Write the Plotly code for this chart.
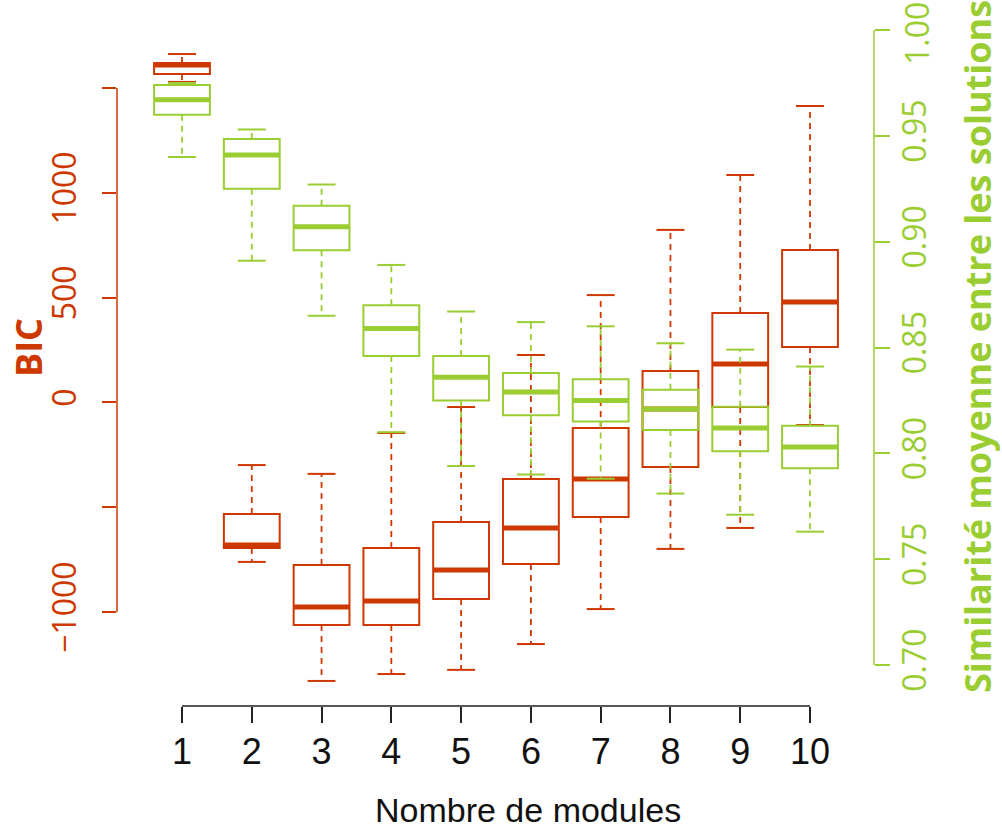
import plotly.graph_objects as go

# ---------------- data ----------------
modules = [1, 2, 3, 4, 5, 6, 7, 8, 9, 10]

bic_upper = [1662, -299, -341, -146, -22, 226, 512, 823, 1085, 1414]
bic_q3 = [1619, -532, -776, -695, -571, -365, -122, 150, 427, 727]
bic_median = [1610, -680, -976, -948, -800, -599, -365, -31, 183, 479]
bic_q1 = [1567, -695, -1062, -1062, -938, -771, -547, -308, -22, 264]
bic_lower = [1529, -761, -1329, -1296, -1276, -1153, -986, -699, -599, -108]

sim_upper = [0.975, 0.953, 0.927, 0.889, 0.867, 0.862, 0.860, 0.852, 0.849, 0.841]
sim_q3 = [0.974, 0.9485, 0.917, 0.870, 0.846, 0.838, 0.835, 0.830, 0.822, 0.813]
sim_median = [0.967, 0.941, 0.907, 0.859, 0.836, 0.829, 0.825, 0.821, 0.812, 0.803]
sim_q1 = [0.960, 0.925, 0.896, 0.846, 0.825, 0.818, 0.815, 0.811, 0.801, 0.793]
sim_lower = [0.940, 0.891, 0.865, 0.810, 0.794, 0.790, 0.788, 0.781, 0.771, 0.763]

bic_ticks = [-1000, -500, 0, 500, 1000, 1500]
bic_ticktext = ["\u22121000", "", "0", "500", "1000", ""]
sim_ticks = [0.70, 0.75, 0.80, 0.85, 0.90, 0.95, 1.00]
sim_ticktext = ["0.70", "0.75", "0.80", "0.85", "0.90", "0.95", "1.00"]

RED = "#CD3700"
GREEN = "#9ACD32"
BOXW = 0.8
CAPW = 0.4

fig = go.Figure()


def add_series(lower, q1, med, q3, upper, color, yaxis):
    fig.add_trace(go.Box(
        x=modules, q1=q1, median=med, q3=q3, lowerfence=q1, upperfence=q3,
        width=BOXW, fillcolor="rgba(0,0,0,0)", line=dict(color=color, width=2),
        whiskerwidth=0, boxpoints=False, yaxis=yaxis, showlegend=False,
        hoverinfo="skip"))
    # dashed whiskers
    wx, wy = [], []
    for xi, lo, a, b, hi in zip(modules, lower, q1, q3, upper):
        wx += [xi, xi, None, xi, xi, None]
        wy += [b, hi, None, a, lo, None]
    fig.add_trace(go.Scatter(x=wx, y=wy, mode="lines", yaxis=yaxis,
                             line=dict(color=color, width=1.8, dash="6px,5px"),
                             showlegend=False, hoverinfo="skip"))
    # staples
    cx, cy = [], []
    for xi, lo, hi in zip(modules, lower, upper):
        cx += [xi - CAPW / 2, xi + CAPW / 2, None, xi - CAPW / 2, xi + CAPW / 2, None]
        cy += [hi, hi, None, lo, lo, None]
    fig.add_trace(go.Scatter(x=cx, y=cy, mode="lines", yaxis=yaxis,
                             line=dict(color=color, width=2),
                             showlegend=False, hoverinfo="skip"))
    # thick medians
    mx, my = [], []
    for xi, m in zip(modules, med):
        mx += [xi - BOXW / 2, xi + BOXW / 2, None]
        my += [m, m, None]
    fig.add_trace(go.Scatter(x=mx, y=my, mode="lines", yaxis=yaxis,
                             line=dict(color=color, width=5),
                             showlegend=False, hoverinfo="skip"))


add_series(bic_lower, bic_q1, bic_median, bic_q3, bic_upper, RED, "y")
add_series(sim_lower, sim_q1, sim_median, sim_q3, sim_upper, GREEN, "y2")

# the top label of the right axis is written as an annotation nudged down so it stays inside the page
sim_axis_text = list(sim_ticktext)
top_label = sim_axis_text[-1]
sim_axis_text[-1] = ""

fig.update_layout(
    width=1002, height=829,
    margin=dict(l=117, r=128, t=10, b=123, autoexpand=False),
    paper_bgcolor="white", plot_bgcolor="white",
    boxmode="overlay",
    showlegend=False,
    xaxis=dict(range=[0.0685, 10.917], tickvals=modules, ticktext=[str(m) for m in modules],
               showgrid=False, zeroline=False, showline=False, automargin=False,
               ticks="outside", ticklen=16, tickwidth=1.5, tickcolor="#222",
               ticklabelstandoff=-2,
               tickfont=dict(family="Liberation Sans, Arial", size=36, color="#111")),
    yaxis=dict(range=[-1448.5, 1872.1], tickvals=bic_ticks, ticktext=bic_ticktext,
               showgrid=False, zeroline=False, showline=False, automargin=False,
               ticks="outside", ticklen=14, tickwidth=1.5, tickcolor=RED,
               tickangle=-90, ticklabelstandoff=13,
               tickfont=dict(family="Open Sans", size=32, color=RED)),
    yaxis2=dict(range=[0.68063, 1.00945], overlaying="y", side="right",
                tickvals=sim_ticks, ticktext=sim_axis_text,
                showgrid=False, zeroline=False, showline=False, automargin=False,
                ticks="outside", ticklen=15, tickwidth=1.5, tickcolor=GREEN,
                tickangle=-90, ticklabelstandoff=-2,
                tickfont=dict(family="Open Sans", size=32, color=GREEN)),
    shapes=[
        dict(type="line", xref="x", yref="paper", x0=modules[0], x1=modules[-1], y0=0, y1=0,
             line=dict(color="#222", width=1.5)),
        dict(type="line", xref="paper", yref="y", x0=0, x1=0, y0=bic_ticks[0], y1=bic_ticks[-1],
             line=dict(color=RED, width=1.5)),
        dict(type="line", xref="paper", yref="y2", x0=1, x1=1, y0=sim_ticks[0], y1=sim_ticks[-1],
             line=dict(color=GREEN, width=1.5)),
    ],
    annotations=[
        dict(text=top_label, xref="paper", yref="y2", x=1, y=sim_ticks[-1],
             xanchor="center", yanchor="middle", xshift=42, yshift=-4, textangle=-90,
             showarrow=False, font=dict(family="Open Sans", size=32, color=GREEN)),
        dict(text="<b>BIC</b>", xref="paper", yref="paper", x=-0.1162, y=0.5144,
             xanchor="center", yanchor="middle", textangle=-90, showarrow=False,
             font=dict(family="Open Sans", size=36, color=RED)),
        dict(text="<b>Similarité moyenne entre les solutions</b>", xref="paper", yref="paper",
             x=1.1361, y=0.5158, xanchor="center", yanchor="middle", textangle=-90,
             showarrow=False, font=dict(family="Open Sans", size=36, color=GREEN)),
        dict(text="Nombre de modules", xref="paper", yref="paper", x=0.543, y=-0.1494,
             xanchor="center", yanchor="middle", showarrow=False,
             font=dict(family="Liberation Sans, Arial", size=34, color="#111")),
    ],
)

fig.write_html("out.html")
